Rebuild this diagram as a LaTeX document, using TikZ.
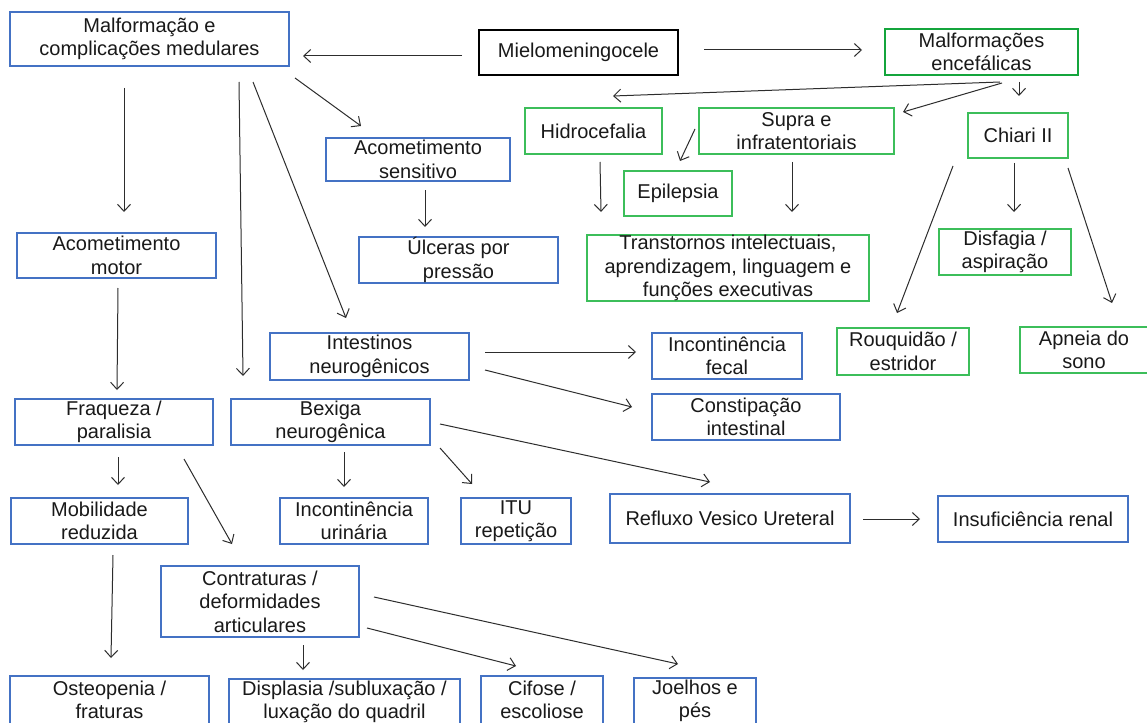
\documentclass[tikz,border=0pt]{standalone}
\usepackage{fontspec}
\setmainfont{Liberation Sans}
\usetikzlibrary{arrows.meta}
\definecolor{bblue}{RGB}{68,114,196}
\definecolor{ggreen}{RGB}{60,190,90}
\definecolor{dgreen}{RGB}{20,165,60}
\definecolor{txt}{RGB}{25,25,25}
\definecolor{arrc}{RGB}{45,45,45}
\begin{document}
\begin{tikzpicture}[x=1pt,y=-1pt,
  box/.style={draw=bblue, line width=1.2pt, align=center, inner sep=0pt, text=txt,
    font=\fontsize{20}{23.5}\selectfont},
  gbox/.style={box, draw=ggreen},
  arr/.style={-{Straight Barb[length=7pt,width=13pt]}, line width=1pt, draw=arrc}]
\useasboundingbox (0,0) rectangle (1147,722);
\clip (0,0) rectangle (1147,722);
\fill[white] (0,0) rectangle (1147,722);

% nodes
\node[box, line width=2pt, minimum width=279pt, minimum height=54pt] (med) at (149.5,39) {Malformação e\\complicações medulares};
\node[box, draw=black, line width=2.2pt, minimum width=199pt, minimum height=45pt] (mielo) at (578.5,52.5) {Mielomeningocele};
\node[gbox, draw=dgreen, line width=2.2pt, minimum width=193pt, minimum height=46pt] (enc) at (981.5,52) {Malformações\\encefálicas};
\node[box, minimum width=184pt, minimum height=43pt] (sens) at (418,159.5) {Acometimento\\sensitivo};
\node[gbox, minimum width=137pt, minimum height=46pt] (hidro) at (593.5,131) {Hidrocefalia};
\node[gbox, minimum width=195pt, minimum height=46pt] (supra) at (796.5,131) {Supra e\\infratentoriais};
\node[gbox, minimum width=100pt, minimum height=45pt] (chiari) at (1018,135.5) {Chiari II};
\node[gbox, minimum width=108pt, minimum height=45pt] (epi) at (678,193.5) {Epilepsia};
\node[gbox, minimum width=282pt, minimum height=66pt] (trans) at (728,268) {Transtornos intelectuais,\\aprendizagem, linguagem e\\funções executivas};
\node[gbox, minimum width=132pt, minimum height=46pt] (disf) at (1005,252) {Disfagia /\\aspiração};
\node[box, minimum width=199pt, minimum height=45pt] (motor) at (116.5,255.5) {Acometimento\\motor};
\node[box, minimum width=199pt, minimum height=46pt] (ulc) at (458.5,260) {Úlceras por\\pressão};
\node[box, minimum width=199pt, minimum height=47pt] (intest) at (369.5,356.5) {Intestinos\\neurogênicos};
\node[box, minimum width=150pt, minimum height=46pt] (ifecal) at (727,356) {Incontinência\\fecal};
\node[gbox, minimum width=132pt, minimum height=47pt] (rouq) at (903,351.5) {Rouquidão /\\estridor};
\node[gbox, minimum width=128pt, minimum height=46pt] (apneia) at (1084,350) {Apneia do\\sono};
\node[box, minimum width=188pt, minimum height=46pt] (const) at (746,417) {Constipação\\intestinal};
\node[box, minimum width=198pt, minimum height=46pt] (fraq) at (114,422) {Fraqueza /\\paralisia};
\node[box, minimum width=199pt, minimum height=46pt] (bex) at (330.5,422) {Bexiga\\neurogênica};
\node[box, minimum width=177pt, minimum height=46pt] (mob) at (99.5,521) {Mobilidade\\reduzida};
\node[box, minimum width=148pt, minimum height=46pt] (iur) at (354,521) {Incontinência\\urinária};
\node[box, minimum width=110pt, minimum height=46pt] (itu) at (516,521) {ITU\\repetição};
\node[box, minimum width=240pt, minimum height=49pt] (ref) at (730,518.5) {Refluxo Vesico Ureteral};
\node[box, minimum width=190pt, minimum height=46pt] (ins) at (1033,519) {Insuficiência renal};
\node[box, minimum width=198pt, minimum height=71pt] (contr) at (260,601.5) {Contraturas /\\deformidades\\articulares};
\node[box, minimum width=199pt, minimum height=48pt] (osteo) at (109.5,700) {Osteopenia /\\fraturas};
\node[box, minimum width=231pt, minimum height=46pt] (disp) at (344.5,702) {Displasia /subluxação /\\luxação do quadril};
\node[box, minimum width=122pt, minimum height=48pt] (cif) at (542,700) {Cifose /\\escoliose};
\node[box, minimum width=122pt, minimum height=46pt] (joel) at (695,701) {Joelhos e\\pés};

% arrow end points
\coordinate (a1s) at (462,56);  \coordinate (a1e) at (303,56);
\coordinate (a2s) at (704,50);  \coordinate (a2e) at (862,50);
\coordinate (a3s) at (1000,82); \coordinate (a3e) at (613,96);
\coordinate (a4s) at (1002,83); \coordinate (a4e) at (903,112);
\coordinate (a5s) at (1019,82); \coordinate (a5e) at (1019,96);
\coordinate (a6s) at (695,129); \coordinate (a6e) at (680,161);
\coordinate (a7s) at (600,162); \coordinate (a7e) at (601,212);
\coordinate (a8s) at (792,162); \coordinate (a8e) at (792,212);
\coordinate (a9s) at (953,166); \coordinate (a9e) at (897,313);
\coordinate (a10s) at (1014,163); \coordinate (a10e) at (1014,212);
\coordinate (a11s) at (1068,168); \coordinate (a11e) at (1112,303);
\coordinate (a12s) at (124,88);  \coordinate (a12e) at (124,212);
\coordinate (a13s) at (295,78);  \coordinate (a13e) at (361,126);
\coordinate (a14s) at (239,82);  \coordinate (a14e) at (243,376);
\coordinate (a15s) at (253,82);  \coordinate (a15e) at (346,318);
\coordinate (a16s) at (425,190); \coordinate (a16e) at (425,227);
\coordinate (a17s) at (118,288); \coordinate (a17e) at (117,390);
\coordinate (a18s) at (485,352); \coordinate (a18e) at (636,352);
\coordinate (a19s) at (485,370); \coordinate (a19e) at (632,407);
\coordinate (a20s) at (440,424); \coordinate (a20e) at (710,482);
\coordinate (a21s) at (344,452); \coordinate (a21e) at (344,487);
\coordinate (a22s) at (440,448); \coordinate (a22e) at (472,484);
\coordinate (a23s) at (118,457); \coordinate (a23e) at (118,485);
\coordinate (a24s) at (184,459); \coordinate (a24e) at (232,544);
\coordinate (a25s) at (113,555); \coordinate (a25e) at (111,658);
\coordinate (a26s) at (863,519); \coordinate (a26e) at (920,519);
\coordinate (a27s) at (303,645); \coordinate (a27e) at (303,670);
\coordinate (a28s) at (367,628); \coordinate (a28e) at (516,666);
\coordinate (a29s) at (374,597); \coordinate (a29e) at (678,664);

\foreach \i in {1,...,29}{\draw[arr] (a\i s) -- (a\i e);}
\end{tikzpicture}
\end{document}
